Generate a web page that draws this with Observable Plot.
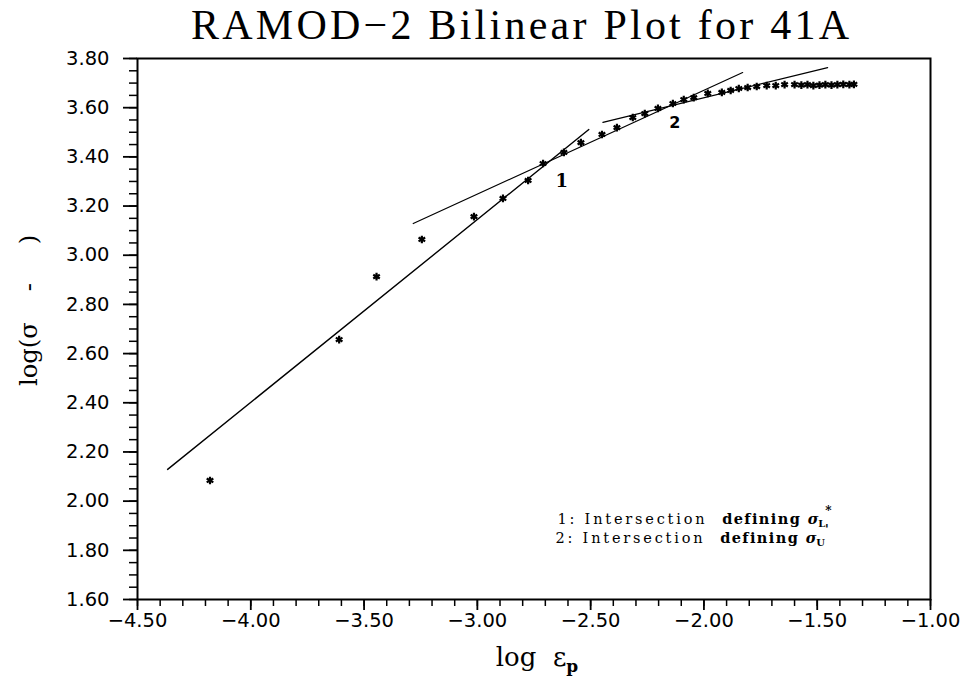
<!DOCTYPE html>
<html>
<head>
<meta charset="utf-8">
<script src="https://cdn.jsdelivr.net/npm/d3@7"></script>
<script src="https://cdn.jsdelivr.net/npm/@observablehq/plot@0.6"></script>
<style>
  html, body { margin: 0; padding: 0; background: #fff; }
  #chart { width: 968px; height: 683px; }
</style>
</head>
<body>
<div id="chart"></div>
<script>
// ---- text ----
const titleText = "RAMOD−2 Bilinear Plot for 41A";
const xLabelText = "log  εp";
const yLabelText = "log(σ    -     )";
const legendLines = ["1: Intersection  defining σL*", "2: Intersection  defining σU'"];
const pointLabels = ["1", "2"];
const pointLabelX = [-2.627, -2.129];
const pointLabelY = [3.30, 3.54];

// ---- axes ticks ----
const xMajor = [-4.5, -4.0, -3.5, -3.0, -2.5, -2.0, -1.5, -1.0];
const yMajor = [1.6, 1.8, 2.0, 2.2, 2.4, 2.6, 2.8, 3.0, 3.2, 3.4, 3.6, 3.8];
const xMinor = d3.range(0, 36).map(i => +(-4.5 + i * 0.1).toFixed(2));
const yMinor = d3.range(0, 45).map(i => +(1.6 + i * 0.05).toFixed(2));

// ---- data points (log eps_p, log(sigma - ...)) ----
const ptX = [-4.180, -3.610, -3.445, -3.245, -3.015, -2.887, -2.776, -2.710, -2.618, -2.543,
             -2.450, -2.384, -2.314, -2.261, -2.203, -2.137, -2.089, -2.045, -1.983, -1.921,
             -1.882, -1.846, -1.807, -1.767, -1.723, -1.683, -1.644, -1.600, -1.570, -1.543,
             -1.517, -1.490, -1.464, -1.437, -1.411, -1.385, -1.358, -1.338];
const ptY = [2.084, 2.657, 2.913, 3.064, 3.157, 3.231, 3.304, 3.373, 3.418, 3.458,
             3.491, 3.519, 3.560, 3.576, 3.597, 3.617, 3.633, 3.641, 3.658, 3.662,
             3.670, 3.678, 3.682, 3.686, 3.690, 3.690, 3.694, 3.694, 3.692, 3.694,
             3.690, 3.692, 3.694, 3.692, 3.694, 3.695, 3.694, 3.695];

// ---- fitted straight lines ----
const fitAX = [-4.367, -2.508];
const fitAY = [2.129, 3.511];
const fitBX = [-3.283, -1.829];
const fitBY = [3.129, 3.743];
const fitCX = [-2.446, -1.454];
const fitCY = [3.540, 3.763];

const fmt = d => (d < 0 ? "−" : "") + Math.abs(d).toFixed(2);

const plot = Plot.plot({
  width: 968,
  height: 683,
  marginLeft: 137,
  marginRight: 38,
  marginTop: 58,
  marginBottom: 84,
  style: {background: "#fff", color: "#000", fontFamily: "DejaVu Sans", fontSize: "19.5px", overflow: "visible"},
  x: {domain: [-4.5, -1.0]},
  y: {domain: [1.6, 3.8]},
  marks: [
    Plot.axisX(xMinor, {tickSize: 7, fill: "none", label: null, strokeWidth: 1.5}),
    Plot.axisX(xMajor, {tickSize: 11, tickPadding: 3, tickFormat: fmt, label: null, strokeWidth: 1.8, fontSize: 19.5}),
    Plot.axisY(yMinor, {tickSize: 8, fill: "none", label: null, strokeWidth: 1.5}),
    Plot.axisY(yMajor, {tickSize: 14, tickPadding: 14, tickFormat: fmt, label: null, strokeWidth: 1.8, fontSize: 19.5}),
    Plot.frame({strokeWidth: 2, stroke: "#000"}),
    Plot.line(fitAX, {x: fitAX, y: fitAY, stroke: "#000", strokeWidth: 1.4}),
    Plot.line(fitBX, {x: fitBX, y: fitBY, stroke: "#000", strokeWidth: 1.2}),
    Plot.line(fitCX, {x: fitCX, y: fitCY, stroke: "#000", strokeWidth: 1.2}),
    Plot.dot(ptX, {x: ptX, y: ptY, symbol: "asterisk", r: 3.6, stroke: "#000", strokeWidth: 2.2}),
    Plot.text(pointLabels.slice(0, 1), {x: pointLabelX.slice(0, 1), y: pointLabelY.slice(0, 1), text: d => d,
      fontFamily: "DejaVu Serif", fontWeight: "bold", fontSize: 18}),
    Plot.text(pointLabels.slice(1, 2), {x: pointLabelX.slice(1, 2), y: pointLabelY.slice(1, 2), text: d => d,
      fontFamily: "DejaVu Sans", fontWeight: "bold", fontSize: 16}),
    Plot.text([titleText], {text: d => d, frameAnchor: "top", lineAnchor: "bottom", textAnchor: "middle",
      dx: -14, dy: -20, fontFamily: "Liberation Serif", fontSize: 42}),
    Plot.text([xLabelText], {text: d => d, frameAnchor: "bottom", lineAnchor: "bottom", textAnchor: "middle",
      dx: 3, dy: 66, fontFamily: "DejaVu Serif", fontSize: 26}),
    Plot.text([yLabelText], {text: d => d, frameAnchor: "left", lineAnchor: "middle", textAnchor: "middle",
      dx: -108.3, dy: -18.5, rotate: -90, fontFamily: "DejaVu Serif", fontSize: 24.3}),
    Plot.text(legendLines.slice(0, 1), {text: d => d, frameAnchor: "bottom-left", lineAnchor: "bottom", textAnchor: "start",
      dx: 420, dy: -76, fontFamily: "DejaVu Serif", fontSize: 14.5}),
    Plot.text(legendLines.slice(1, 2), {text: d => d, frameAnchor: "bottom-left", lineAnchor: "bottom", textAnchor: "start",
      dx: 418, dy: -57, fontFamily: "DejaVu Serif", fontSize: 14.5})
  ]
});

document.getElementById("chart").appendChild(plot);

// ---- rich text post-processing (bold, subscripts, spacing) ----
function setRich(node, parts) {
  const sel = d3.select(node);
  sel.text(null);
  parts.forEach(p => {
    const ts = sel.append("tspan").text(p.t);
    if (p.weight) ts.attr("font-weight", p.weight);
    if (p.size) ts.attr("font-size", p.size);
    if (p.dy) ts.attr("dy", p.dy);
    if (p.family) ts.attr("font-family", p.family);
    if (p.style) ts.attr("font-style", p.style);
    if (p.ls !== undefined) ts.style("letter-spacing", p.ls + "px");
  });
}
const NB = "\u00a0";
const legendParts = (n, sub, sup) => [
  {t: n + ":" + NB + "Intersection" + NB + NB, ls: 2.8},
  {t: "defining" + NB, weight: "bold", ls: 1.4},
  {t: "σ", weight: "bold", style: "italic", ls: 0},
  {t: sub, size: 10, dy: 3, weight: "bold", ls: 0},
  {t: sup, size: 12, dy: -12, weight: "bold", ls: 0}
];
const richMap = new Map([
  [xLabelText, [{t: "log" + NB + NB + "ε"}, {t: "p", size: 17, dy: 6, weight: "bold"}]],
  [yLabelText, [{t: "log(σ" + NB.repeat(4) + "-" + NB.repeat(5) + ")"}]],
  [legendLines[0], legendParts("1", "L", "*")],
  [legendLines[1], legendParts("2", "U", "'")]
]);
d3.select(plot).selectAll("text").each(function () {
  const t = this.textContent;
  if (richMap.has(t)) setRich(this, richMap.get(t));
  if (t === titleText) {
    d3.select(this).attr("textLength", 658).attr("lengthAdjust", "spacing");
  }
});
</script>
</body>
</html>
